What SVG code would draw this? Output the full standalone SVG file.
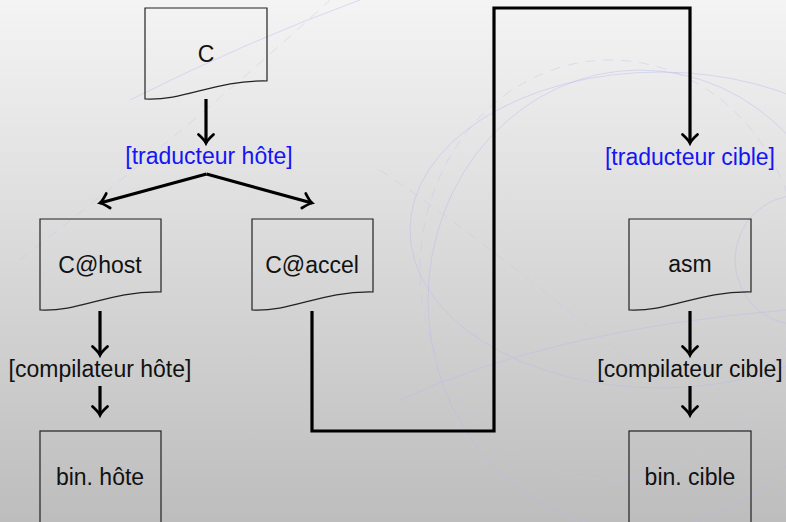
<svg xmlns="http://www.w3.org/2000/svg" width="786" height="522" viewBox="0 0 786 522">
  <defs>
    <linearGradient id="bg" x1="0" y1="0" x2="0" y2="1">
      <stop offset="0" stop-color="#f4f4f4"/>
      <stop offset="1" stop-color="#bdbdbd"/>
    </linearGradient>
    <marker id="arr" markerUnits="userSpaceOnUse" markerWidth="20" markerHeight="20" refX="0" refY="0" orient="auto" viewBox="-10 -10 20 20" overflow="visible">
      <path d="M-8.5,-7.5 Q-3,-1.5 0,0 Q-3,1.5 -8.5,7.5" fill="none" stroke="#000" stroke-width="2.8" stroke-linecap="round"/>
    </marker>
    <style>
      .doc { fill: none; stroke: #222; stroke-width: 1.2; }
      .lbl { font-family: "Liberation Sans", Arial, Helvetica, sans-serif; font-size: 23px; fill: #111; text-anchor: middle; }
      .tool { font-family: "Liberation Sans", Arial, Helvetica, sans-serif; font-size: 23px; text-anchor: middle; }
      .blue { fill: #1515f5; }
      .blk { fill: #111; }
      .conn { fill: none; stroke: #000; stroke-width: 3.2; }
      .deco { fill: none; stroke: #b9b9f0; stroke-width: 1; opacity: 0.45; }
      .decod { fill: none; stroke: #c4c4ee; stroke-width: 1; stroke-dasharray: 10 8; opacity: 0.45; }
    </style>
  </defs>

  <rect x="0" y="0" width="786" height="522" fill="url(#bg)"/>

  <g id="decor">
    <ellipse class="deco" cx="640" cy="300" rx="212" ry="230"/>
    <ellipse class="deco" cx="660" cy="230" rx="250" ry="158"/>
    <ellipse class="decod" cx="610" cy="270" rx="190" ry="210"/>
    <circle class="deco" cx="800" cy="260" r="65"/>
    <path class="deco" d="M400,400 Q550,330 786,310"/>
    <path class="decod" d="M20,260 Q200,120 330,0"/>
    <path class="decod" d="M380,170 Q500,250 700,420"/>
    <path class="deco" d="M130,100 Q250,40 360,0"/>
  </g>

  <g id="node-C">
    <path class="doc" d="M145,99 V8 H267 V81 C215,80 185,101 145,99 Z"/>
    <text class="lbl" x="206" y="62">C</text>
  </g>

  <g id="tool-traducteur-hote">
    <text class="tool blue" x="209" y="164">[traducteur hôte]</text>
  </g>

  <g id="node-C-host">
    <path class="doc" d="M40,310 V219 H161 V292 C109,291 80,312 40,310 Z"/>
    <text class="lbl" x="100" y="273">C@host</text>
  </g>

  <g id="node-C-accel">
    <path class="doc" d="M252,310 V219 H373 V292 C321,291 292,312 252,310 Z"/>
    <text class="lbl" x="312" y="273">C@accel</text>
  </g>

  <g id="tool-compilateur-hote">
    <text class="tool blk" x="100" y="377">[compilateur hôte]</text>
  </g>

  <g id="node-bin-hote">
    <rect class="doc" x="40" y="431" width="121" height="100"/>
    <text class="lbl" x="100" y="485">bin. hôte</text>
  </g>

  <g id="tool-traducteur-cible">
    <text class="tool blue" x="690" y="165">[traducteur cible]</text>
  </g>

  <g id="node-asm">
    <path class="doc" d="M629,310 V219 H751 V292 C699,291 669,312 629,310 Z"/>
    <text class="lbl" x="690" y="272">asm</text>
  </g>

  <g id="tool-compilateur-cible">
    <text class="tool blk" x="690" y="377">[compilateur cible]</text>
  </g>

  <g id="node-bin-cible">
    <rect class="doc" x="629" y="431" width="122" height="100"/>
    <text class="lbl" x="690" y="485">bin. cible</text>
  </g>

  <g id="connectors">
    <line class="conn" x1="206" y1="99" x2="206" y2="143" marker-end="url(#arr)"/>
    <line class="conn" x1="206.5" y1="174" x2="100" y2="203" marker-end="url(#arr)"/>
    <line class="conn" x1="206.5" y1="174" x2="312" y2="203" marker-end="url(#arr)"/>
    <line class="conn" x1="100" y1="311" x2="100" y2="355" marker-end="url(#arr)"/>
    <line class="conn" x1="100" y1="386" x2="100" y2="415" marker-end="url(#arr)"/>
    <polyline class="conn" points="312,311 312,431 494,431 494,8 690,8 690,143" marker-end="url(#arr)"/>
    <line class="conn" x1="690" y1="311" x2="690" y2="355" marker-end="url(#arr)"/>
    <line class="conn" x1="690" y1="386" x2="690" y2="415" marker-end="url(#arr)"/>
  </g>
</svg>
